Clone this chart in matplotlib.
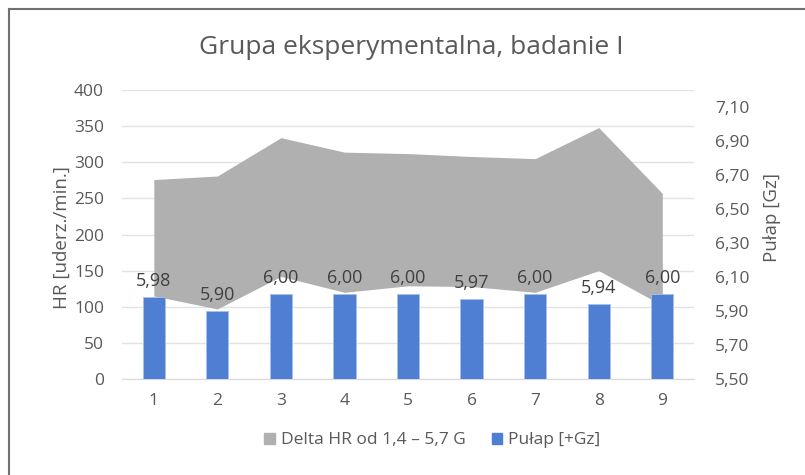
import matplotlib
matplotlib.use('Agg')
import matplotlib.pyplot as plt
from matplotlib.lines import Line2D
from matplotlib.patches import Patch

plt.rcParams['font.family'] = ['Open Sans', 'DejaVu Sans']

proby = [1, 2, 3, 4, 5, 6, 7, 8, 9]
hr_dolne = [115, 97, 142, 120, 129, 128, 120, 150, 102]
hr_gorne = [276, 281, 334, 314, 312, 308, 305, 348, 257]
pulap = [5.98, 5.90, 6.00, 6.00, 6.00, 5.97, 6.00, 5.94, 6.00]

szary = '#b0b0b0'
niebieski = '#4e7fd3'
tekst = '#595959'

fig = plt.figure(figsize=(8.05, 4.75), dpi=100)
ax = fig.add_axes([0.1516, 0.2021, 0.7106, 0.6084])

ax.fill_between(proby, hr_dolne, hr_gorne, color=szary, linewidth=0, zorder=2)
ax.set_xlim(0.5, 9.5)
ax.set_ylim(0, 400)
ax.set_yticks(range(0, 401, 50))
ax.grid(axis='y', color='#e3e3e3', linewidth=1, zorder=0)
ax.set_axisbelow(True)
for s in ['top', 'left', 'right']:
    ax.spines[s].set_visible(False)
ax.spines['bottom'].set_color('#d9d9d9')
ax.set_xticks(proby)
ax.tick_params(axis='both', length=0, labelsize=12.5, colors=tekst)
ax.tick_params(axis='x', pad=10)
ax.tick_params(axis='y', pad=13)
ax.set_ylabel('HR [uderz./min.]', fontsize=13.5, color=tekst)
ax.yaxis.set_label_coords(-0.09, 0.49)

ax2 = ax.twinx()
ax2.bar(proby, pulap, width=0.35, color=niebieski, edgecolor='#a9c0ea', linewidth=0.6, zorder=3)
ax2.set_ylim(5.5, 7.2)
ticks2 = [5.5, 5.7, 5.9, 6.1, 6.3, 6.5, 6.7, 6.9, 7.1]
ax2.set_yticks(ticks2)
ax2.set_yticklabels([f'{t:.2f}'.replace('.', ',') for t in ticks2])
for s in ['top', 'left', 'right', 'bottom']:
    ax2.spines[s].set_visible(False)
ax2.tick_params(axis='y', length=0, labelsize=12.5, colors=tekst, pad=15)
ax2.set_ylabel('Pułap [Gz]', fontsize=13.5, color=tekst)
ax2.yaxis.set_label_coords(1.12, 0.56)

for x, v in zip(proby, pulap):
    ax2.annotate(f'{v:.2f}'.replace('.', ','), (x, v), xytext=(0, 5), textcoords='offset points',
                 ha='center', va='bottom', fontsize=13, color='#404040', zorder=5)

fig.text(0.511, 0.90, 'Grupa eksperymentalna, badanie I', ha='center', va='center',
         fontsize=19, color=tekst)

uchwyty = [Patch(color=szary, label='Delta HR od 1,4 – 5,7 G'),
           Patch(color=niebieski, label='Pułap [+Gz]')]
fig.legend(handles=uchwyty, loc='center', bbox_to_anchor=(0.537, 0.073), ncol=2, frameon=False,
           fontsize=12.5, labelcolor=tekst, handlelength=0.6, handleheight=0.6,
           handletextpad=0.35, columnspacing=1.5)

fig.add_artist(Line2D([9 / 805, 1], [1 - 9 / 475, 1 - 9 / 475], transform=fig.transFigure,
                      color='#707070', linewidth=1.5))
fig.add_artist(Line2D([9 / 805, 9 / 805], [0, 1 - 9 / 475], transform=fig.transFigure,
                      color='#707070', linewidth=1.5))

fig.savefig('out.png', dpi=100)
